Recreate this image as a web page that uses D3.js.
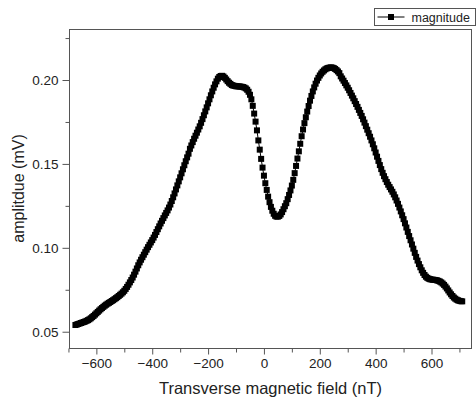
<!DOCTYPE html>
<html>
<head>
<meta charset="utf-8">
<script src="https://cdn.jsdelivr.net/npm/d3@7"></script>
<style>
  body { margin: 0; background: #fff; }
  svg { display: block; font-family: "Liberation Sans", Arial, sans-serif; }
</style>
</head>
<body>
<div id="chart"></div>
<script>
// field sweep: first point and step (nT)
const fieldStart = -675;
const fieldStep = 5;

// amplitude (mV), one value per field step
const amplitude = [
  0.0540, 0.0543, 0.0546, 0.0549, 0.0552, 0.0555, 0.0558, 0.0561, 0.0565, 0.0569,
  0.0574, 0.0580, 0.0587, 0.0594, 0.0602, 0.0610, 0.0618, 0.0626, 0.0634, 0.0641,
  0.0648, 0.0655, 0.0661, 0.0667, 0.0672, 0.0677, 0.0683, 0.0688, 0.0694, 0.0700,
  0.0706, 0.0713, 0.0720, 0.0727, 0.0735, 0.0744, 0.0755, 0.0767, 0.0780, 0.0794,
  0.0808, 0.0823, 0.0840, 0.0858, 0.0877, 0.0896, 0.0913, 0.0929, 0.0944, 0.0959,
  0.0974, 0.0989, 0.1004, 0.1018, 0.1032, 0.1046, 0.1061, 0.1077, 0.1094, 0.1111,
  0.1128, 0.1145, 0.1161, 0.1177, 0.1193, 0.1208, 0.1223, 0.1240, 0.1258, 0.1279,
  0.1301, 0.1324, 0.1348, 0.1372, 0.1396, 0.1420, 0.1444, 0.1468, 0.1492, 0.1516,
  0.1539, 0.1561, 0.1590, 0.1610, 0.1630, 0.1650, 0.1668, 0.1686, 0.1705, 0.1724,
  0.1745, 0.1767, 0.1790, 0.1813, 0.1837, 0.1861, 0.1885, 0.1909, 0.1932, 0.1954,
  0.1974, 0.1992, 0.2008, 0.2018, 0.2024, 0.2025, 0.2021, 0.2013, 0.2003, 0.1993,
  0.1984, 0.1977, 0.1970, 0.1967, 0.1965, 0.1963, 0.1962, 0.1962, 0.1961, 0.1960,
  0.1958, 0.1955, 0.1950, 0.1942, 0.1930, 0.1912, 0.1885, 0.1846, 0.1800, 0.1752,
  0.1700, 0.1640, 0.1585, 0.1530, 0.1478, 0.1430, 0.1385, 0.1345, 0.1305, 0.1272,
  0.1244, 0.1221, 0.1203, 0.1191, 0.1186, 0.1186, 0.1190, 0.1199, 0.1213, 0.1230,
  0.1248, 0.1266, 0.1290, 0.1315, 0.1342, 0.1371, 0.1405, 0.1445, 0.1488, 0.1532,
  0.1575, 0.1620, 0.1665, 0.1705, 0.1743, 0.1778, 0.1812, 0.1845, 0.1877, 0.1905,
  0.1932, 0.1956, 0.1978, 0.1997, 0.2013, 0.2027, 0.2039, 0.2049, 0.2057, 0.2064,
  0.2069, 0.2072, 0.2074, 0.2075, 0.2074, 0.2071, 0.2066, 0.2059, 0.2051, 0.2041,
  0.2022, 0.2009, 0.1996, 0.1982, 0.1968, 0.1954, 0.1939, 0.1923, 0.1907, 0.1891,
  0.1874, 0.1857, 0.1840, 0.1822, 0.1804, 0.1786, 0.1766, 0.1746, 0.1725, 0.1704,
  0.1683, 0.1662, 0.1640, 0.1617, 0.1593, 0.1568, 0.1543, 0.1518, 0.1493, 0.1469,
  0.1447, 0.1427, 0.1409, 0.1392, 0.1376, 0.1362, 0.1348, 0.1334, 0.1318, 0.1301,
  0.1282, 0.1262, 0.1240, 0.1217, 0.1194, 0.1171, 0.1146, 0.1121, 0.1095, 0.1070,
  0.1045, 0.1020, 0.0995, 0.0970, 0.0946, 0.0924, 0.0903, 0.0884, 0.0866, 0.0851,
  0.0838, 0.0828, 0.0821, 0.0816, 0.0813, 0.0811, 0.0810, 0.0809, 0.0808, 0.0806,
  0.0803, 0.0799, 0.0794, 0.0787, 0.0779, 0.0769, 0.0758, 0.0746, 0.0734, 0.0723,
  0.0713, 0.0704, 0.0697, 0.0691, 0.0687, 0.0684, 0.0682, 0.0681
];

const xTicks = [-600, -400, -200, 0, 200, 400, 600];
const xMinorTicks = [-700, -500, -300, -100, 100, 300, 500, 700];
const yTicks = [0.05, 0.10, 0.15, 0.20];
const yMinorTicks = [0.075, 0.125, 0.175, 0.225];

const seriesName = "magnitude";
const xTitle = "Transverse magnetic field (nT)";
const yTitle = "amplitdue (mV)";

const width = 476;
const height = 401;
const margin = { top: 29, right: 4, bottom: 53, left: 69 };

const data = amplitude.map((v, i) => ({ x: fieldStart + i * fieldStep, y: v }));

const svg = d3.select("#chart")
  .append("svg")
  .attr("width", width)
  .attr("height", height);

const xScale = d3.scaleLinear()
  .domain([-698, 745])
  .range([margin.left, width - margin.right]);

const yScale = d3.scaleLinear()
  .domain([0.0403, 0.2304])
  .range([height - margin.bottom, margin.top]);

const axisColor = "#555";

// frame
svg.append("rect")
  .attr("x", margin.left + 0.5)
  .attr("y", margin.top + 0.5)
  .attr("width", width - margin.left - margin.right - 1)
  .attr("height", height - margin.top - margin.bottom)
  .attr("fill", "none")
  .attr("stroke", axisColor)
  .attr("stroke-width", 1);

// axes
const xAxis = svg.append("g")
  .attr("transform", `translate(0,${height - margin.bottom + 0.5})`)
  .call(d3.axisBottom(xScale).tickValues(xTicks).tickSize(6).tickPadding(4).tickFormat(d3.format("d")));

svg.append("g")
  .attr("transform", `translate(0,${height - margin.bottom + 0.5})`)
  .call(d3.axisBottom(xScale).tickValues(xMinorTicks).tickSize(4).tickFormat(""));

const yAxis = svg.append("g")
  .attr("transform", `translate(${margin.left + 0.5},0)`)
  .call(d3.axisLeft(yScale).tickValues(yTicks).tickSize(7).tickPadding(4).tickFormat(d3.format(".2f")));

svg.append("g")
  .attr("transform", `translate(${margin.left + 0.5},0)`)
  .call(d3.axisLeft(yScale).tickValues(yMinorTicks).tickSize(4).tickFormat(""));

svg.selectAll(".domain").remove();
svg.selectAll(".tick line").attr("stroke", axisColor);
svg.selectAll(".tick text")
  .attr("fill", "#222")
  .style("font-size", "13.5px");

// axis titles
svg.append("text")
  .attr("x", (margin.left + width - margin.right) / 2)
  .attr("y", 394)
  .attr("text-anchor", "middle")
  .attr("fill", "#222")
  .style("font-size", "16.5px")
  .text(xTitle);

svg.append("text")
  .attr("transform", `translate(24,${(margin.top + height - margin.bottom) / 2}) rotate(-90)`)
  .attr("text-anchor", "middle")
  .attr("fill", "#222")
  .style("font-size", "16px")
  .text(yTitle);

// series
svg.append("path")
  .datum(data)
  .attr("fill", "none")
  .attr("stroke", "#000")
  .attr("stroke-width", 1)
  .attr("d", d3.line().x(d => xScale(d.x)).y(d => yScale(d.y)));

const ms = 6;
svg.append("g")
  .selectAll("rect")
  .data(data)
  .join("rect")
  .attr("x", d => xScale(d.x) - ms / 2)
  .attr("y", d => yScale(d.y) - ms / 2)
  .attr("width", ms)
  .attr("height", ms)
  .attr("fill", "#000");

// legend
const legend = svg.append("g").attr("transform", "translate(374.5,8.5)");
legend.append("rect")
  .attr("width", 101)
  .attr("height", 17)
  .attr("fill", "#fff")
  .attr("stroke", axisColor);
legend.append("line")
  .attr("x1", 3).attr("x2", 30)
  .attr("y1", 8.5).attr("y2", 8.5)
  .attr("stroke", "#000");
legend.append("rect")
  .attr("x", 13.5).attr("y", 5.5)
  .attr("width", 6).attr("height", 6)
  .attr("fill", "#000");
legend.append("text")
  .attr("x", 37)
  .attr("y", 13)
  .attr("fill", "#222")
  .style("font-size", "12.5px")
  .text(seriesName);
</script>
</body>
</html>
